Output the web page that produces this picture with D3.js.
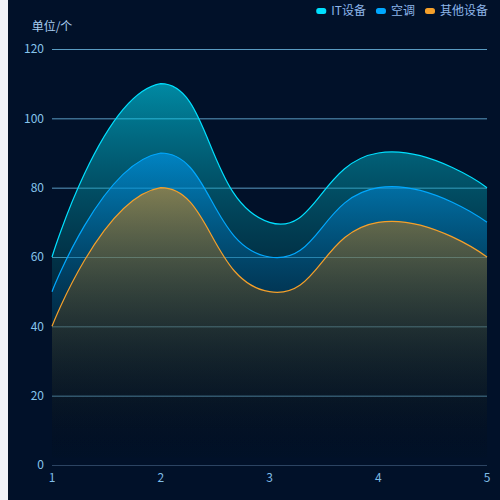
<!DOCTYPE html>
<html>
<head>
<meta charset="utf-8">
<script src="https://cdn.jsdelivr.net/npm/d3@7/dist/d3.min.js"></script>
<style>
html,body{margin:0;padding:0;background:#011129;}
svg{display:block;}
text{font-family:"Noto Sans CJK SC","Noto Sans",sans-serif;}
</style>
</head>
<body>
<svg id="chart" width="500" height="500"></svg>
<script>
// ---- data ----
const categories = [1, 2, 3, 4, 5];
const itValues = [60, 110, 70, 90, 80];
const acValues = [50, 90, 60, 80, 70];
const otherValues = [40, 80, 50, 70, 60];
const seriesNames = ["IT设备", "空调", "其他设备"];
const yTicks = [0, 20, 40, 60, 80, 100, 120];
const yUnitLabel = "单位/个";

const seriesList = [
  {name: seriesNames[0], values: itValues, line: "#00e0ff", fill: [0, 228, 255], alpha: 0.57},
  {name: seriesNames[1], values: acValues, line: "#00a8ff", fill: [0, 160, 255], alpha: 0.55},
  {name: seriesNames[2], values: otherValues, line: "#f5a02a", fill: [255, 140, 0], alpha: 0.5}
];

const W = 500, H = 500;
const svg = d3.select("#chart");
svg.append("rect").attr("x", 0).attr("y", 0).attr("width", W).attr("height", H).attr("fill", "#011129");
svg.append("rect").attr("x", 0).attr("y", 0).attr("width", 8).attr("height", H).attr("fill", "#f0f2f8");

const grid = {left: 52, right: 487, top: 49, bottom: 465};
const x = d3.scaleLinear().domain([categories[0], categories[categories.length - 1]]).range([grid.left, grid.right]);
const y = d3.scaleLinear().domain([0, 120]).range([grid.bottom, grid.top]);

// grid lines
svg.append("g").selectAll("line").data(yTicks.filter(d => d > 0)).join("line")
  .attr("x1", grid.left).attr("x2", grid.right)
  .attr("y1", d => y(d) + 0.5).attr("y2", d => y(d) + 0.5)
  .attr("stroke", "#5a9cc2").attr("stroke-width", 1);
// x axis line
svg.append("line").attr("x1", grid.left).attr("x2", grid.right)
  .attr("y1", y(0) + 0.5).attr("y2", y(0) + 0.5)
  .attr("stroke", "#2c4462").attr("stroke-width", 1);

// y labels
svg.append("g").selectAll("text").data(yTicks).join("text")
  .attr("x", 44).attr("y", d => y(d))
  .attr("dy", "0.35em").attr("text-anchor", "end")
  .attr("font-size", 12).attr("fill", "#86c4ec")
  .text(d => d);
// x labels
svg.append("g").selectAll("text").data(categories).join("text")
  .attr("x", d => x(d)).attr("y", 482)
  .attr("text-anchor", "middle")
  .attr("font-size", 12).attr("fill", "#7fbce6")
  .text(d => d);
// unit label
svg.append("text").attr("x", 52).attr("y", 27).attr("dy", "0.35em")
  .attr("text-anchor", "middle").attr("font-size", 12).attr("fill", "#a8cdf0")
  .text(yUnitLabel);

// ECharts v4-like smoothBezier
function smoothLine(pts, smooth) {
  const xs = pts.map(p => p[0]), ys = pts.map(p => p[1]);
  const minX = d3.min(xs), maxX = d3.max(xs), minY = d3.min(ys), maxY = d3.max(ys);
  const cps = [];
  const n = pts.length;
  const clamp = (p) => [Math.min(maxX, Math.max(minX, p[0])), Math.min(maxY, Math.max(minY, p[1]))];
  for (let i = 0; i < n; i++) {
    const p = pts[i];
    if (i === 0 || i === n - 1) { cps.push(p.slice()); continue; }
    const prev = pts[i - 1], next = pts[i + 1];
    const v = [(next[0] - prev[0]) * smooth, (next[1] - prev[1]) * smooth];
    let d0 = Math.hypot(p[0] - prev[0], p[1] - prev[1]);
    let d1 = Math.hypot(p[0] - next[0], p[1] - next[1]);
    const sum = d0 + d1;
    if (sum !== 0) { d0 /= sum; d1 /= sum; }
    cps.push(clamp([p[0] - v[0] * d0, p[1] - v[1] * d0]));
    cps.push(clamp([p[0] + v[0] * d1, p[1] + v[1] * d1]));
  }
  const path = d3.path();
  path.moveTo(pts[0][0], pts[0][1]);
  for (let i = 0; i < n - 1; i++) {
    const c0 = cps[2 * i], c1 = cps[2 * i + 1], p = pts[i + 1];
    path.bezierCurveTo(c0[0], c0[1], c1[0], c1[1], p[0], p[1]);
  }
  return path;
}

const defs = svg.append("defs");
const layer = svg.append("g");
seriesList.forEach((s, si) => {
  const pts = s.values.map((v, i) => [x(categories[i]), y(v)]);
  const gid = "grad" + si;
  const g = defs.append("linearGradient").attr("id", gid)
    .attr("x1", 0).attr("y1", 0).attr("x2", 0).attr("y2", 1);
  const N = 10;
  for (let k = 0; k <= N; k++) {
    const t = k / N, f = 1 - t;
    g.append("stop").attr("offset", t)
      .attr("stop-color", `rgb(${Math.round(s.fill[0] * f)},${Math.round(s.fill[1] * f)},${Math.round(s.fill[2] * f)})`)
      .attr("stop-opacity", s.alpha * f);
  }
  const linePath = smoothLine(pts, 0.5).toString();
  const areaPath = linePath + `L${pts[pts.length - 1][0]},${y(0)}L${pts[0][0]},${y(0)}Z`;
  layer.append("path").attr("d", areaPath).attr("fill", `url(#${gid})`);
  layer.append("path").attr("d", linePath).attr("fill", "none")
    .attr("stroke", s.line).attr("stroke-width", 1.2);
});

// legend (right aligned)
const legend = svg.append("g");
let cursor = 488;
const items = [];
for (let i = seriesList.length - 1; i >= 0; i--) {
  const s = seriesList[i];
  const t = legend.append("text").attr("y", 11).attr("dy", "0.35em")
    .attr("font-size", 12).attr("fill", "#8db6ea").text(s.name);
  const tw = t.node().getComputedTextLength();
  const tx = cursor - tw;
  t.attr("x", tx);
  legend.append("rect").attr("x", tx - 5 - 10).attr("y", 8).attr("width", 10).attr("height", 6)
    .attr("rx", 2.5).attr("fill", s.line);
  cursor = tx - 15 - 10;
}
</script>
</body>
</html>
